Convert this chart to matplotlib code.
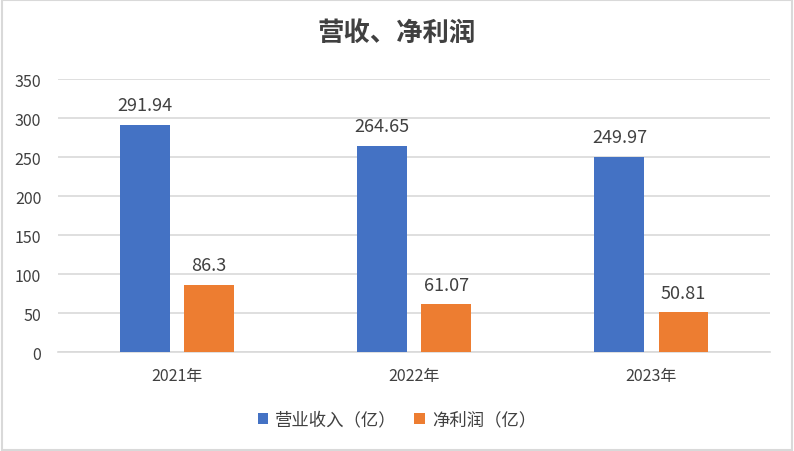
import matplotlib.pyplot as plt
import numpy as np
from matplotlib.patches import Rectangle

plt.rcParams['font.family'] = ['Noto Sans CJK SC', 'DejaVu Sans']

years = ['2021年', '2022年', '2023年']
revenue = [291.94, 264.65, 249.97]
profit = [86.3, 61.07, 50.81]
rev_labels = ['291.94', '264.65', '249.97']
profit_labels = ['86.3', '61.07', '50.81']

blue = '#4472C4'
orange = '#ED7D31'
txt = '#404040'

fig = plt.figure(figsize=(7.94, 4.52), dpi=100)
ax = fig.add_axes([0.073, 0.2190, 0.897, 0.6030])

x = np.arange(len(years))
w = 0.21
off = 0.135
b1 = ax.bar(x - off, revenue, w, color=blue, label='营业收入（亿）', zorder=3)
b2 = ax.bar(x + off, profit, w, color=orange, label='净利润（亿）', zorder=3)

for bars, labs in ((b1, rev_labels), (b2, profit_labels)):
    for r, s in zip(bars, labs):
        ax.text(r.get_x() + r.get_width() / 2, r.get_height() + 14, s,
                ha='center', va='bottom', fontsize=13, color=txt)

ax.set_xlim(-0.5, 2.5)
ax.set_ylim(0, 350)
ax.set_yticks(np.arange(0, 351, 50))
ax.set_xticks(x)
ax.set_xticklabels(years)
ax.tick_params(axis='both', length=0, labelsize=11.5, colors=txt)
ax.tick_params(axis='x', pad=11)
ax.tick_params(axis='y', pad=12)
ax.grid(axis='y', color='#D9D9D9', linewidth=1.2, zorder=0)
for s in ('top', 'right', 'left'):
    ax.spines[s].set_visible(False)
ax.spines['bottom'].set_color('#D9D9D9')
ax.spines['bottom'].set_linewidth(1.2)

fig.text(0.5, 0.925, '营收、净利润', ha='center', va='center',
         fontsize=19, fontweight='bold', color=txt)

fig.legend(handles=[b1, b2], loc='center', bbox_to_anchor=(0.5, 0.07),
           ncol=2, frameon=False, fontsize=12.5, handlelength=0.6,
           handleheight=0.6, handletextpad=0.4, columnspacing=1.0,
           labelcolor=txt)

fig.patches.append(Rectangle((0.002, 0.003), 0.996, 0.994, transform=fig.transFigure,
                             fill=False, edgecolor='#D9D9D9', linewidth=1.5))

fig.savefig('out.png', dpi=100)
